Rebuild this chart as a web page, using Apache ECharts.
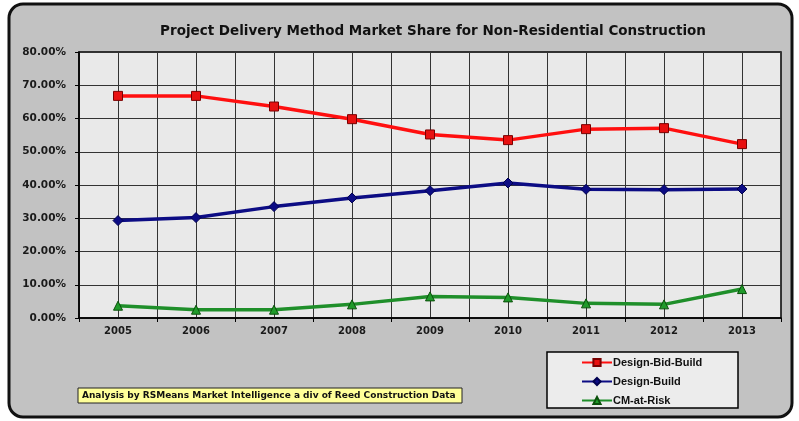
<!DOCTYPE html>
<html><head><meta charset="utf-8">
<script src="https://cdn.jsdelivr.net/npm/echarts@6/dist/echarts.min.js"></script>
<style>html,body{margin:0;padding:0;background:#fff;}#c{width:799px;height:421px;}</style>
</head><body><div id="c"></div>
<script>
const years = ['2005','2006','2007','2008','2009','2010','2011','2012','2013'];
const designBidBuild = [66.8, 66.8, 63.6, 59.8, 55.2, 53.5, 56.8, 57.1, 52.3];
const designBuild = [29.3, 30.2, 33.5, 36.1, 38.3, 40.6, 38.7, 38.6, 38.8];
const cmAtRisk = [3.7, 2.5, 2.5, 4.1, 6.5, 6.2, 4.4, 4.1, 8.7];
const yTicks = [0, 10, 20, 30, 40, 50, 60, 70, 80];
const seriesNames = ['Design-Bid-Build', 'Design-Build', 'CM-at-Risk'];

const FONT = '"Liberation Sans", Arial, sans-serif';
const WIDE = '"DejaVu Sans", sans-serif';
const chart = echarts.init(document.getElementById('c'));
const gridCol = '#333';
chart.setOption({
  backgroundColor: '#ffffff',
  animation: false,
  graphic: [
    {type: 'rect', z: -10, shape: {x: 9, y: 4, width: 783, height: 413, r: 14},
     style: {fill: '#c2c2c2', stroke: '#111', lineWidth: 3}},
    {type: 'rect', z: 5, shape: {x: 547, y: 352, width: 191, height: 56},
     style: {fill: '#ececec', stroke: '#000', lineWidth: 1.5}},
    {type: 'rect', z: 5, shape: {x: 78, y: 388, width: 384, height: 15},
     style: {fill: '#ffff99', stroke: '#222', lineWidth: 1}},
    {type: 'text', z: 6, x: 82, y: 396,
     style: {text: 'Analysis by RSMeans Market Intelligence a div of Reed Construction Data',
             fill: '#111', font: 'bold 9px ' + WIDE, textVerticalAlign: 'middle'}}
  ],
  title: {
    text: 'Project Delivery Method Market Share for Non-Residential Construction',
    left: 428, top: 19, textAlign: 'center',
    textStyle: {fontFamily: WIDE, fontWeight: 'bold', fontSize: 13.5, color: '#111'}
  },
  legend: {
    data: seriesNames, orient: 'vertical', left: 576, top: 352,
    itemWidth: 30, itemHeight: 9, itemGap: 8, z: 10,
    textStyle: {fontFamily: FONT, fontWeight: 'bold', fontSize: 11, color: '#111', padding: [0,0,0,-4]}
  },
  grid: {left: 79, top: 52, right: 18, bottom: 103, show: true,
         backgroundColor: '#e9e9e9', borderColor: '#000', borderWidth: 1.5},
  xAxis: [
    {type: 'category', data: years, boundaryGap: true,
     axisLine: {lineStyle: {color: '#000', width: 1.5}},
     axisTick: {show: true, inside: false, length: 4, lineStyle: {color: '#000'}},
     axisLabel: {fontFamily: WIDE, fontWeight: 'bold', fontSize: 10, color: '#1a1a1a', margin: 8},
     splitLine: {show: false}},
    {type: 'value', min: 0, max: 9, interval: 0.5, position: 'top',
     axisLine: {show: false}, axisTick: {show: false}, axisLabel: {show: false},
     splitLine: {show: true, lineStyle: {color: gridCol, width: 1}}}
  ],
  yAxis: {
    type: 'value', min: 0, max: 80, interval: 10,
    axisLine: {show: true, lineStyle: {color: '#000', width: 1.5}},
    axisTick: {show: true, inside: false, length: 4, lineStyle: {color: '#000'}},
    axisLabel: {fontFamily: WIDE, fontWeight: 'bold', fontSize: 10.5, color: '#1a1a1a', margin: 13,
                formatter: v => v.toFixed(2) + '%'},
    splitLine: {show: true, lineStyle: {color: gridCol, width: 1}}
  },
  series: [
    {name: seriesNames[0], type: 'line', data: designBidBuild, xAxisIndex: 0,
     symbol: 'rect', symbolSize: 9, z: 4,
     lineStyle: {color: '#ff0f0f', width: 3.5},
     itemStyle: {color: '#e81010', borderColor: '#7a0000', borderWidth: 1}},
    {name: seriesNames[1], type: 'line', data: designBuild, xAxisIndex: 0,
     symbol: 'diamond', symbolSize: 10, z: 4,
     lineStyle: {color: '#0c0c84', width: 3.5},
     itemStyle: {color: '#0c0c84', borderColor: '#000050', borderWidth: 1}},
    {name: seriesNames[2], type: 'line', data: cmAtRisk, xAxisIndex: 0,
     symbol: 'triangle', symbolSize: 9, z: 4,
     lineStyle: {color: '#1f8f2a', width: 3.5},
     itemStyle: {color: '#1f9a2a', borderColor: '#0a500a', borderWidth: 1}}
  ]
});
</script></body></html>
